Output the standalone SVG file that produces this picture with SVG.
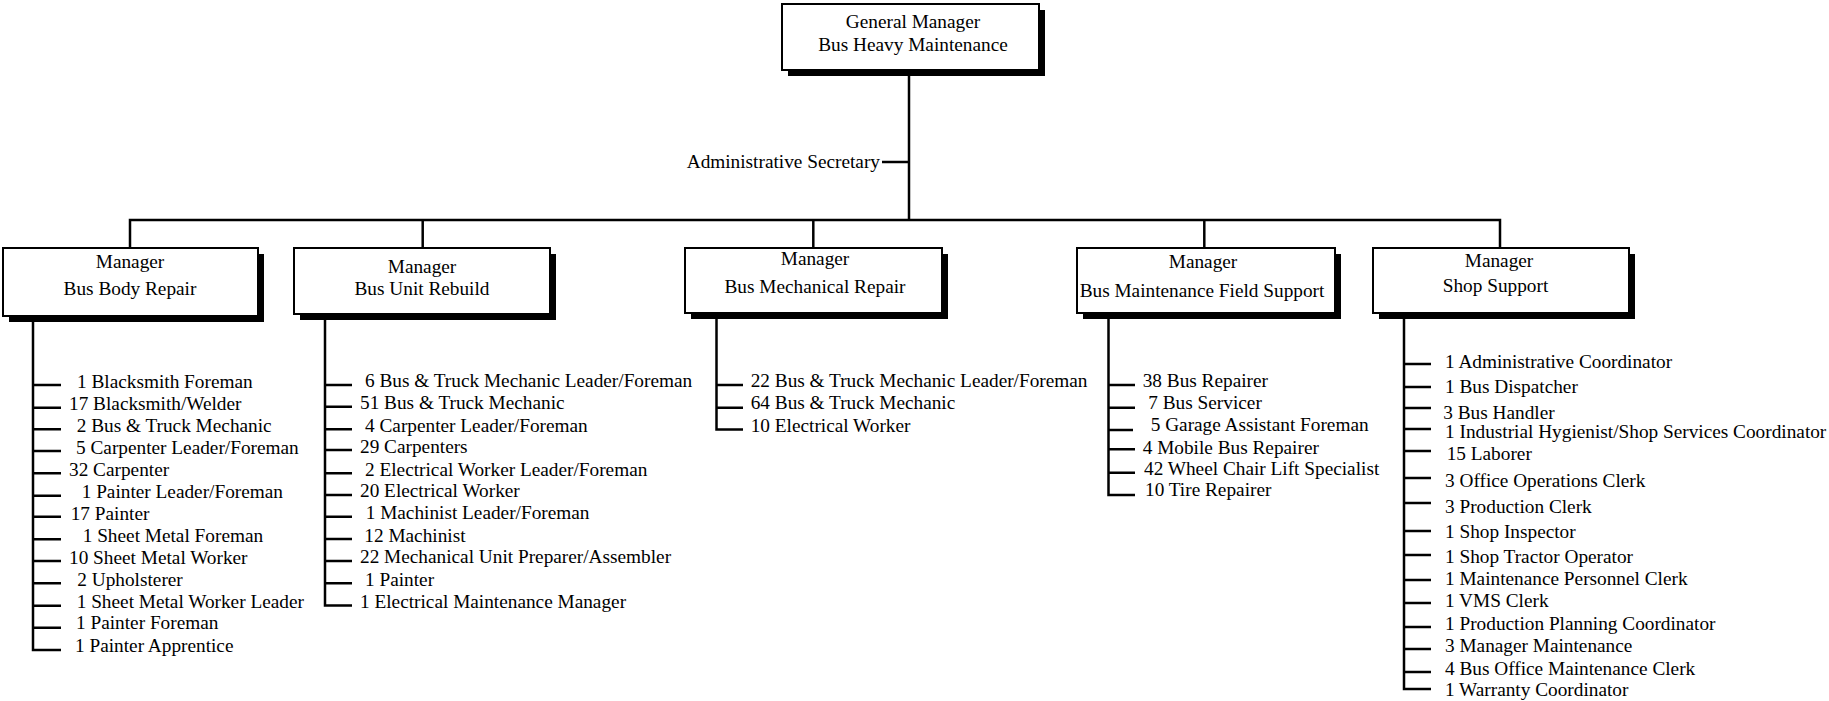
<svg xmlns="http://www.w3.org/2000/svg" width="1829" height="701" viewBox="0 0 1829 701">
<style>
text{font-family:"Liberation Serif","Times New Roman",serif;font-size:19.3px;fill:#000}
.c{text-anchor:middle}
.box{fill:#fff;stroke:#000;stroke-width:2}
.sh{fill:#000}
.ln{fill:none;stroke:#000;stroke-width:2.5}
</style>
<rect width="1829" height="701" fill="#fff"/>
<g id="connectors" class="ln">
<path d="M909 70 V220"/>
<path d="M882 162 H909"/>
<path d="M130 248 V220 H1500 V248"/>
<path d="M422.7 220 V248"/>
<path d="M813.3 220 V248"/>
<path d="M1204.3 220 V248"/>
<path d="M33 316 V650 H61 M33 385 H61 M33 407.7 H61 M33 429.3 H61 M33 451 H61 M33 473.3 H61 M33 495.7 H61 M33 516.7 H61 M33 539.3 H61 M33 561 H61 M33 583.3 H61 M33 605.7 H61 M33 627.7 H61"/>
<path d="M325 314 V605.5 H352 M325 385 H352 M325 406.7 H352 M325 429.3 H352 M325 450 H352 M325 473.3 H352 M325 495 H352 M325 516.7 H352 M325 539 H352 M325 561 H352 M325 583.3 H352"/>
<path d="M716.5 313 V429.5 H743 M716.5 385 H743 M716.5 407.7 H743"/>
<path d="M1108.5 313 V495 H1135 M1108.5 385 H1135 M1108.5 407.7 H1135 M1108.5 430 H1133 M1108.5 449.3 H1135 M1108.5 472.7 H1135"/>
<path d="M1404 313 V689 H1431 M1404 364 H1431 M1404 387 H1431 M1404 408 H1431 M1404 429 H1431 M1404 451 H1431 M1404 478 H1431 M1404 503 H1431 M1404 531 H1431 M1404 555 H1431 M1404 580 H1431 M1404 603 H1431 M1404 627 H1431 M1404 649 H1431 M1404 672 H1431"/>
</g>
<g id="general-manager">
<rect class="sh" x="788" y="10" width="257" height="66"/>
<rect class="box" x="782" y="4" width="257" height="66"/>
<text class="c" x="913" y="28">General Manager</text>
<text class="c" x="913" y="51">Bus Heavy Maintenance</text>
</g>
<g id="admin-secretary">
<text x="880" y="168" text-anchor="end">Administrative Secretary</text>
</g>
<g id="bus-body-repair">
<rect class="sh" x="9" y="254" width="255" height="68"/>
<rect class="box" x="3" y="248" width="255" height="68"/>
<text class="c" x="130" y="268">Manager</text>
<text class="c" x="130" y="295">Bus Body Repair</text>
</g>
<g id="bus-body-repair-staff">
<text x="77" y="387.5">1 Blacksmith Foreman</text>
<text x="69" y="410">17 Blacksmith/Welder</text>
<text x="76.7" y="431.7">2 Bus &amp; Truck Mechanic</text>
<text x="76" y="454">5 Carpenter Leader/Foreman</text>
<text x="69" y="475.7">32 Carpenter</text>
<text x="81.7" y="497.7">1 Painter Leader/Foreman</text>
<text x="70.7" y="520">17 Painter</text>
<text x="82.7" y="541.7">1 Sheet Metal Foreman</text>
<text x="69" y="564">10 Sheet Metal Worker</text>
<text x="77.3" y="585.7">2 Upholsterer</text>
<text x="76.7" y="607.7">1 Sheet Metal Worker Leader</text>
<text x="76" y="629.3">1 Painter Foreman</text>
<text x="75" y="651.7">1 Painter Apprentice</text>
</g>
<g id="bus-unit-rebuild">
<rect class="sh" x="300" y="254" width="256" height="66"/>
<rect class="box" x="294" y="248" width="256" height="66"/>
<text class="c" x="422" y="273">Manager</text>
<text class="c" x="422" y="295">Bus Unit Rebuild</text>
</g>
<g id="bus-unit-rebuild-staff">
<text x="365" y="387.3">6 Bus &amp; Truck Mechanic Leader/Foreman</text>
<text x="360" y="409.3">51 Bus &amp; Truck Mechanic</text>
<text x="365" y="431.7">4 Carpenter Leader/Foreman</text>
<text x="360" y="453.3">29 Carpenters</text>
<text x="365" y="475.7">2 Electrical Worker Leader/Foreman</text>
<text x="360" y="497.3">20 Electrical Worker</text>
<text x="365.7" y="519.3">1 Machinist Leader/Foreman</text>
<text x="364.3" y="541.7">12 Machinist</text>
<text x="360" y="563.3">22 Mechanical Unit Preparer/Assembler</text>
<text x="365" y="585.7">1 Painter</text>
<text x="360" y="608.3">1 Electrical Maintenance Manager</text>
</g>
<g id="bus-mechanical-repair">
<rect class="sh" x="691" y="254" width="257" height="65"/>
<rect class="box" x="685" y="248" width="257" height="65"/>
<text class="c" x="815" y="265">Manager</text>
<text class="c" x="815" y="293.3">Bus Mechanical Repair</text>
</g>
<g id="bus-mechanical-repair-staff">
<text x="750.7" y="387">22 Bus &amp; Truck Mechanic Leader/Foreman</text>
<text x="750.7" y="409.3">64 Bus &amp; Truck Mechanic</text>
<text x="750.7" y="431.7">10 Electrical Worker</text>
</g>
<g id="bus-maintenance-field-support">
<rect class="sh" x="1083" y="254" width="258" height="65"/>
<rect class="box" x="1077" y="248" width="258" height="65"/>
<text class="c" x="1203" y="268.3">Manager</text>
<text class="c" x="1202" y="296.7">Bus Maintenance Field Support</text>
</g>
<g id="bus-maintenance-field-support-staff">
<text x="1142.7" y="387.3">38 Bus Repairer</text>
<text x="1148.3" y="409.3">7 Bus Servicer</text>
<text x="1150.7" y="430.7">5 Garage Assistant Foreman</text>
<text x="1142.7" y="454">4 Mobile Bus Repairer</text>
<text x="1144" y="475">42 Wheel Chair Lift Specialist</text>
<text x="1145" y="495.5">10 Tire Repairer</text>
</g>
<g id="shop-support">
<rect class="sh" x="1379" y="254" width="256" height="65"/>
<rect class="box" x="1373" y="248" width="256" height="65"/>
<text class="c" x="1499" y="267.3">Manager</text>
<text class="c" x="1495.5" y="291.7">Shop Support</text>
</g>
<g id="shop-support-staff">
<text x="1445" y="368.3">1 Administrative Coordinator</text>
<text x="1445" y="393.3">1 Bus Dispatcher</text>
<text x="1443.3" y="419">3 Bus Handler</text>
<text x="1445" y="437.5">1 Industrial Hygienist/Shop Services Coordinator</text>
<text x="1446.7" y="459.5">15 Laborer</text>
<text x="1445" y="486.7">3 Office Operations Clerk</text>
<text x="1445" y="513.3">3 Production Clerk</text>
<text x="1445" y="538">1 Shop Inspector</text>
<text x="1445" y="563.3">1 Shop Tractor Operator</text>
<text x="1445" y="585">1 Maintenance Personnel Clerk</text>
<text x="1445" y="607.3">1 VMS Clerk</text>
<text x="1445" y="630">1 Production Planning Coordinator</text>
<text x="1445" y="651.7">3 Manager Maintenance</text>
<text x="1445" y="675">4 Bus Office Maintenance Clerk</text>
<text x="1445" y="696">1 Warranty Coordinator</text>
</g>
</svg>
